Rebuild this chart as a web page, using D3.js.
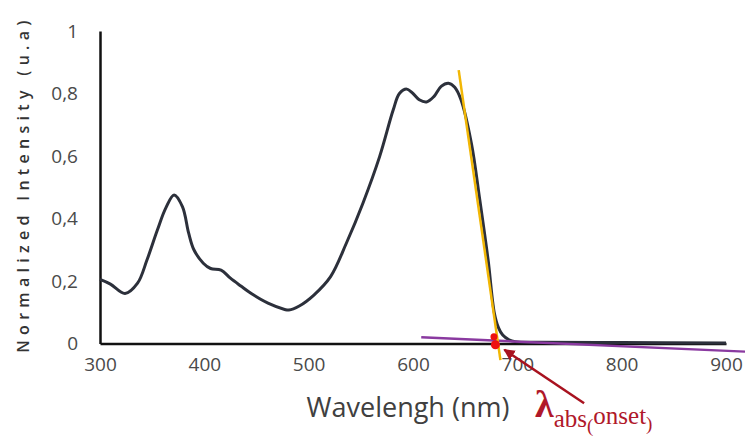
<!DOCTYPE html>
<html lang="en">
<head>
<meta charset="utf-8">
<style>
  body { margin: 0; background: #fff; }
  text { font-family: "Open Sans", sans-serif; }
</style>
</head>
<body>
<script src="https://d3js.org/d3.v7.min.js"></script>
<script>
    // spectrum
    var wavelength = [300, 310, 324, 336, 345, 355, 363, 371, 379, 385, 390, 399, 406, 416, 425, 435, 445, 461, 477, 481, 491, 505, 521, 536, 552, 568, 581, 587, 594, 600, 606, 613, 620, 627, 634, 640, 646, 656, 664, 672, 678, 682, 686, 692, 698, 720, 800, 900];
    var intensity = [0.205, 0.19, 0.16, 0.193, 0.267, 0.363, 0.433, 0.475, 0.438, 0.353, 0.30, 0.257, 0.24, 0.235, 0.209, 0.184, 0.16, 0.129, 0.109, 0.107, 0.12, 0.155, 0.214, 0.32, 0.449, 0.598, 0.747, 0.80, 0.814, 0.80, 0.78, 0.773, 0.79, 0.823, 0.833, 0.82, 0.78, 0.64, 0.46, 0.267, 0.097, 0.05, 0.027, 0.012, 0.006, 0.004, 0.003, 0.002];

    var xTicks = [300, 400, 500, 600, 700, 800, 900];
    var yTicks = [0, 0.2, 0.4, 0.6, 0.8, 1];
    var yTickLabels = ["0", "0,2", "0,4", "0,6", "0,8", "1"];

    // tangent + baseline construction for the onset
    var tangentLine = [[643.8, 0.875], [683.8, -0.053]];
    var baseLine = [[607.9, 0.0198], [918.2, -0.026]];
    var onsetPoints = [[677.6, 0.022, 3.5], [679, -0.004, 4.5]];
    var arrowFrom = [764, -0.191], arrowTo = [687.5, -0.02];

    var width = 746, height = 437;

    var x = d3.scaleLinear().domain([300, 900]).range([100, 726]);
    var y = d3.scaleLinear().domain([0, 1]).range([343.5, 31]);

    var svg = d3.select("body").append("svg")
        .attr("width", width)
        .attr("height", height);

    var defs = svg.append("defs");
    defs.append("marker")
        .attr("id", "head")
        .attr("viewBox", "0 0 10 10")
        .attr("refX", 9).attr("refY", 5)
        .attr("markerWidth", 4.5).attr("markerHeight", 4.5)
        .attr("orient", "auto")
        .append("path")
        .attr("d", "M0,0 L10,5 L0,10 Z")
        .attr("fill", "#a8121f");

    // axes
    var xAxis = d3.axisBottom(x).tickValues(xTicks).tickSize(0).tickPadding(14);
    var gx = svg.append("g").attr("transform", "translate(0," + y(0) + ")").call(xAxis);
    gx.select(".domain").attr("stroke", "#111").attr("stroke-width", 2.5);
    gx.selectAll("text").attr("font-size", 19).attr("fill", "#4a4a4a");

    var yAxis = d3.axisLeft(y).tickValues(yTicks).tickSize(0).tickPadding(22)
        .tickFormat(function (d, i) { return yTickLabels[i]; });
    var gy = svg.append("g").attr("transform", "translate(" + x(300) + ",0)").call(yAxis);
    gy.select(".domain").attr("stroke", "#111").attr("stroke-width", 2.5);
    gy.selectAll("text").attr("font-size", 19).attr("fill", "#4a4a4a");

    // curve
    var line = d3.line()
        .x(function (d, i) { return x(wavelength[i]); })
        .y(function (d) { return y(d); })
        .curve(d3.curveCatmullRom.alpha(0.5));

    svg.append("path")
        .datum(intensity)
        .attr("d", line)
        .attr("fill", "none")
        .attr("stroke", "#2c303b")
        .attr("stroke-width", 3);

    var seg = d3.line().x(function (d) { return x(d[0]); }).y(function (d) { return y(d[1]); });

    svg.append("path").datum(baseLine).attr("d", seg)
        .attr("stroke", "#8a3aa0").attr("stroke-width", 2.5).attr("fill", "none");
    svg.append("path").datum(tangentLine).attr("d", seg)
        .attr("stroke", "#f2b705").attr("stroke-width", 2.5).attr("fill", "none");

    svg.selectAll("circle.onset").data(onsetPoints).enter().append("circle")
        .attr("class", "onset")
        .attr("cx", function (d) { return x(d[0]); })
        .attr("cy", function (d) { return y(d[1]); })
        .attr("r", function (d) { return d[2]; })
        .attr("fill", "#ee1111");

    svg.append("line")
        .attr("x1", x(arrowFrom[0])).attr("y1", y(arrowFrom[1]))
        .attr("x2", x(arrowTo[0])).attr("y2", y(arrowTo[1]))
        .attr("stroke", "#a8121f").attr("stroke-width", 2.5)
        .attr("marker-end", "url(#head)");

    // onset label
    var lab = svg.append("text")
        .attr("x", 535).attr("y", 417)
        .attr("fill", "#b0182a")
        .style("font-family", "'Liberation Serif', 'DejaVu Serif', serif");
    lab.append("tspan").text("λ").attr("font-size", 38).attr("font-weight", "bold");
    lab.append("tspan").text("abs").attr("font-size", 25).attr("dy", 10);
    lab.append("tspan").text("(").attr("font-size", 19).attr("dy", 5);
    lab.append("tspan").text("onset").attr("font-size", 25).attr("dy", -8);
    lab.append("tspan").text(")").attr("font-size", 19).attr("dy", 6);

    // axis titles
    svg.append("text")
        .attr("x", 408).attr("y", 417)
        .attr("text-anchor", "middle")
        .attr("font-size", 27)
        .attr("fill", "#404040")
        .text("Wavelengh (nm)");

    svg.append("text")
        .attr("transform", "translate(29,184) rotate(-90)")
        .attr("text-anchor", "middle")
        .attr("font-size", 16)
        .attr("font-weight", 600)
        .attr("letter-spacing", 5.3)
        .attr("fill", "#333")
        .text("Normalized Intensity (u.a)");
</script>
</body>
</html>
